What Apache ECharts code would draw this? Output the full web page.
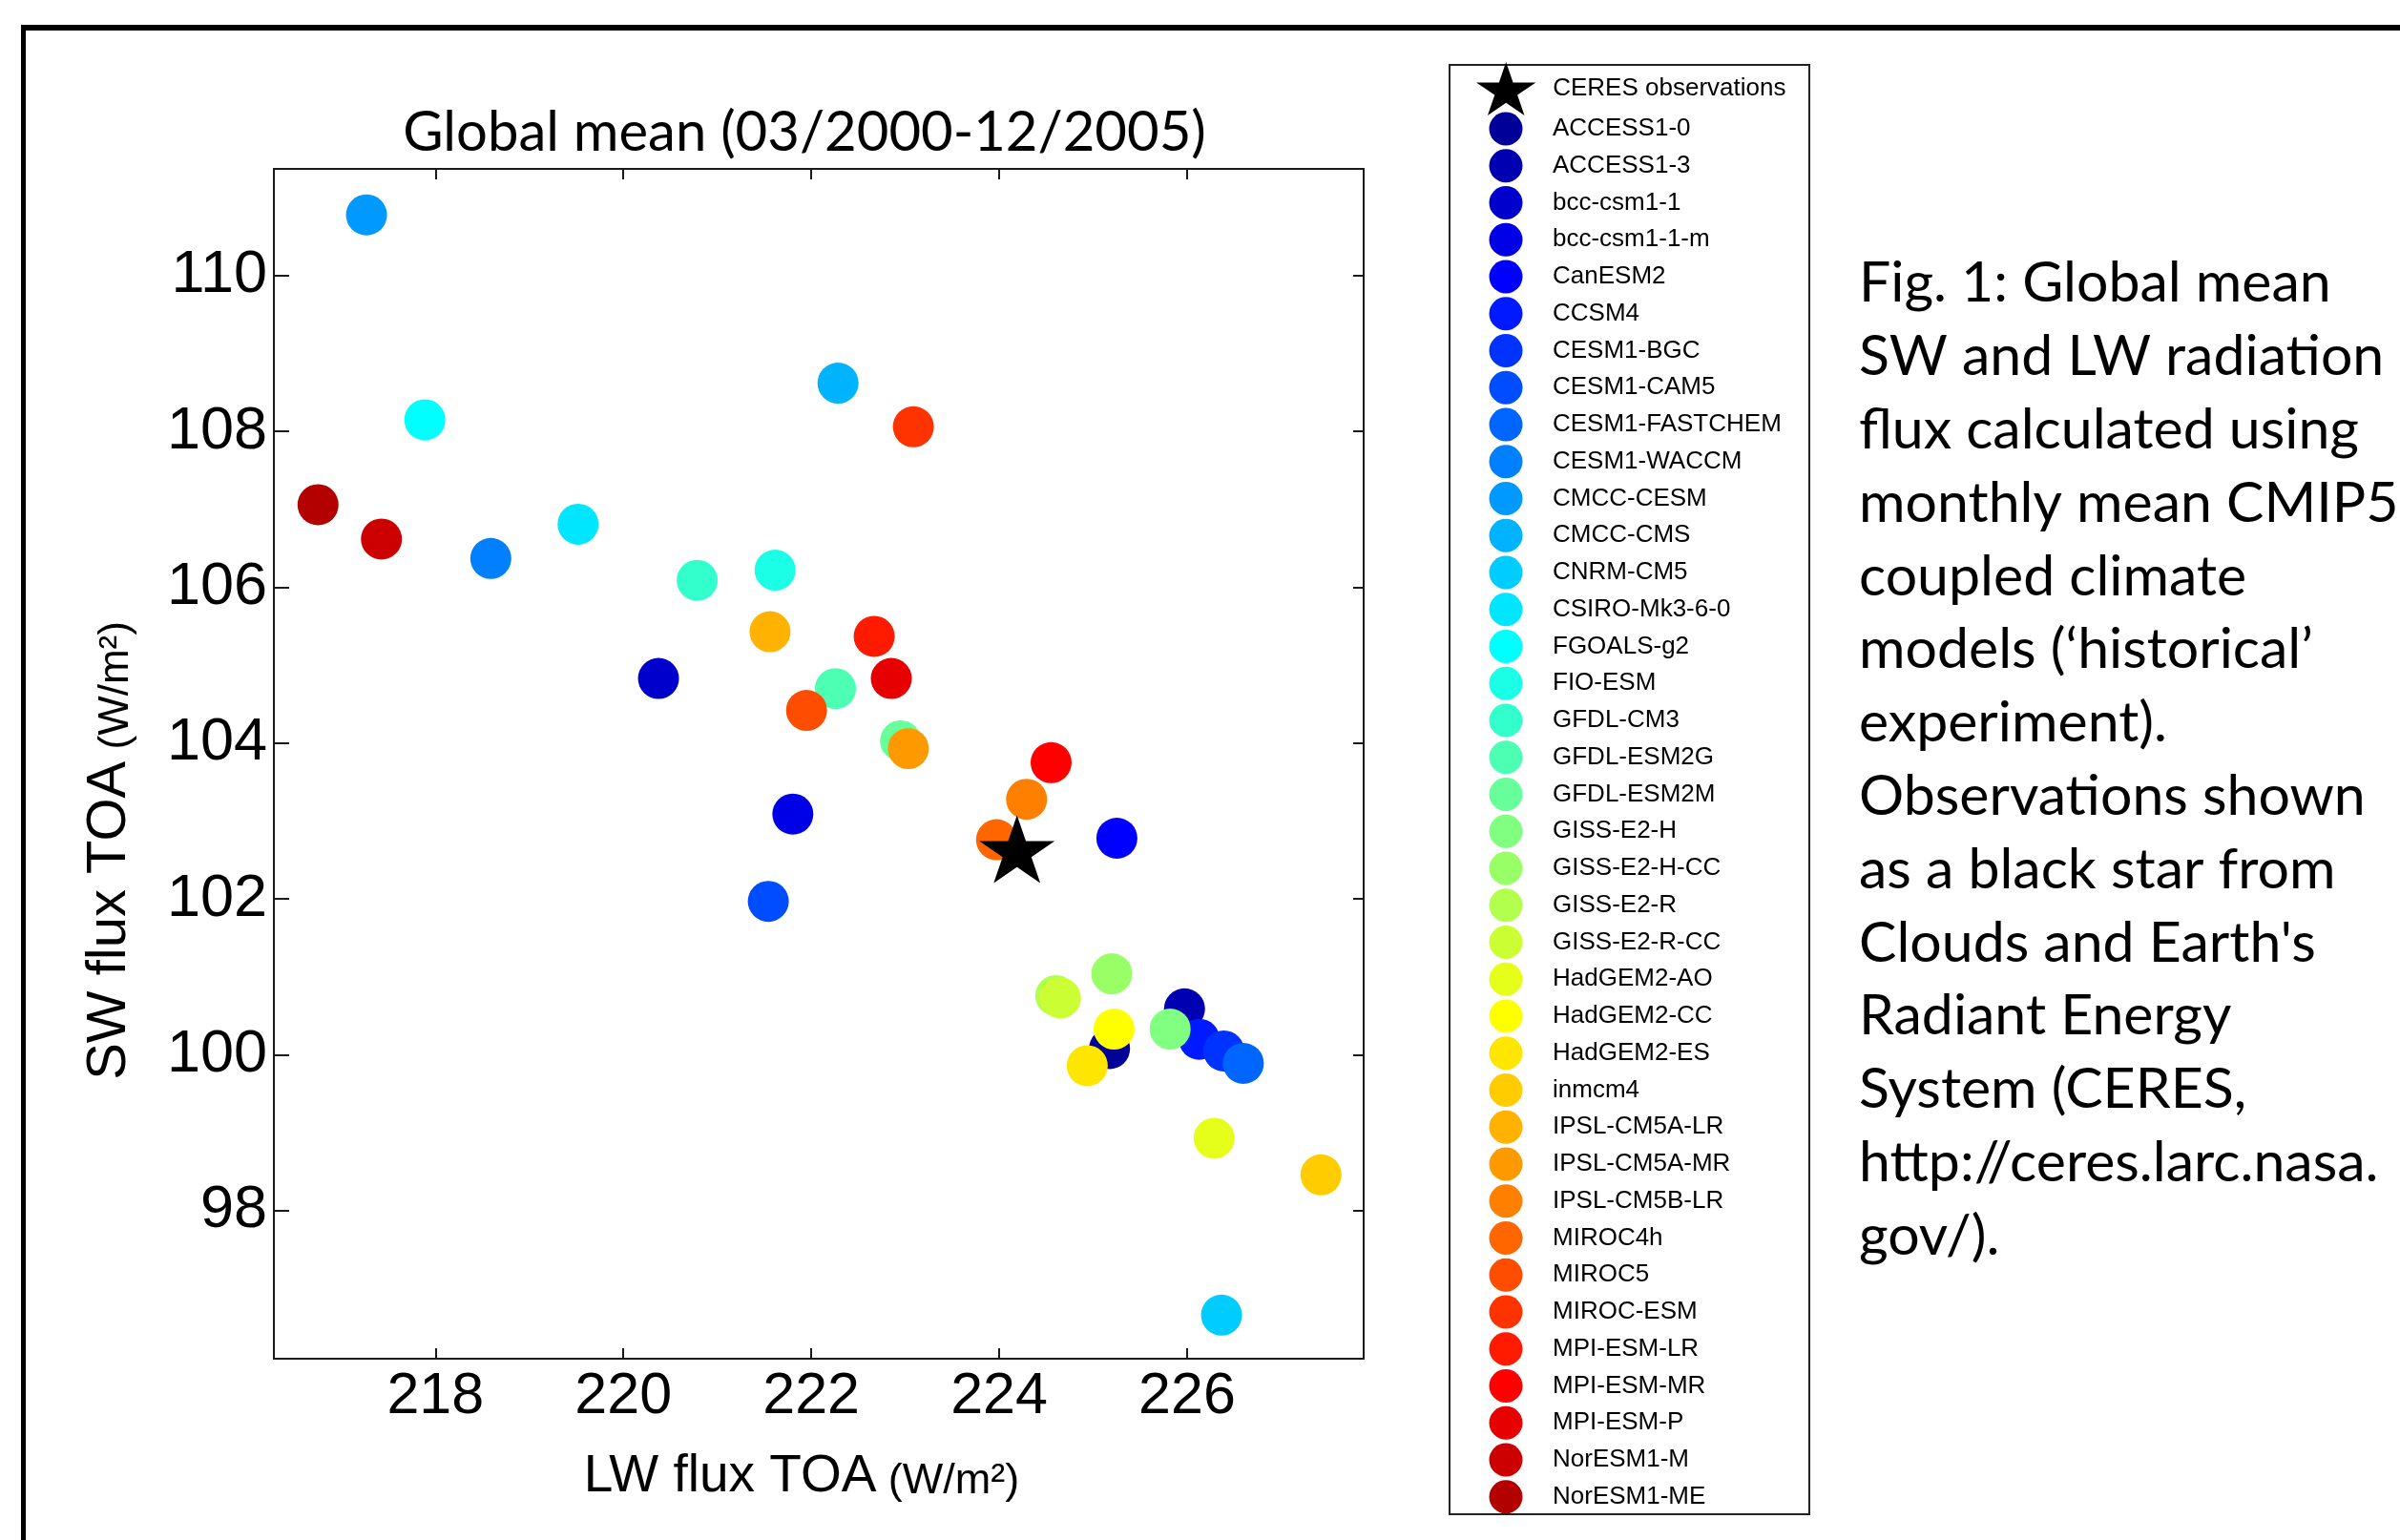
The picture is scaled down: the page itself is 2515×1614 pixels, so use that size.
<!DOCTYPE html>
<html>
<head>
<meta charset="utf-8">
<script src="https://cdn.jsdelivr.net/npm/echarts@6/dist/echarts.min.js"></script>
<style>html,body{margin:0;padding:0;background:#fff}#c{width:2515px;height:1614px}</style>
</head>
<body>
<div id="c"></div>
<script>
// ---- data ----
const models = ['ACCESS1-0','ACCESS1-3','bcc-csm1-1','bcc-csm1-1-m','CanESM2','CCSM4','CESM1-BGC','CESM1-CAM5',
  'CESM1-FASTCHEM','CESM1-WACCM','CMCC-CESM','CMCC-CMS','CNRM-CM5','CSIRO-Mk3-6-0','FGOALS-g2','FIO-ESM',
  'GFDL-CM3','GFDL-ESM2G','GFDL-ESM2M','GISS-E2-H','GISS-E2-H-CC','GISS-E2-R','GISS-E2-R-CC','HadGEM2-AO',
  'HadGEM2-CC','HadGEM2-ES','inmcm4','IPSL-CM5A-LR','IPSL-CM5A-MR','IPSL-CM5B-LR','MIROC4h','MIROC5',
  'MIROC-ESM','MPI-ESM-LR','MPI-ESM-MR','MPI-ESM-P','NorESM1-M','NorESM1-ME'];
const lwFlux = [225.175,225.973,220.374,221.804,225.253,226.130,226.391,221.543,
  226.599,218.589,217.266,222.285,226.367,219.518,217.887,221.615,
  220.786,222.258,222.951,225.820,225.199,224.603,224.652,226.288,
  225.223,224.938,227.426,221.561,223.033,224.292,223.972,221.950,
  223.087,222.670,224.553,222.852,217.425,216.750];
const swFlux = [100.08,100.59,104.83,103.09,102.78,100.20,100.05,101.97,
  99.89,106.37,110.78,108.62,96.66,106.81,108.15,106.22,
  106.09,104.70,104.03,100.33,101.04,100.76,100.73,98.93,
  100.33,99.86,98.46,105.43,103.93,103.28,102.76,104.42,
  108.06,105.37,103.75,104.83,106.62,107.06];
const ceresName = 'CERES observations';
const ceresLW = [224.19];
const ceresSW = [102.64];
const xTicks = [218,220,222,224,226];
const yTicks = [98,100,102,104,106,108,110];
const captionLines = ['Fig. 1: Global mean','SW and LW radiation','flux calculated using','monthly mean CMIP5',
  'coupled climate','models (\u2018historical\u2019','experiment).','Observations shown','as a black star from',
  'Clouds and Earth\'s','Radiant Energy','System (CERES,','http://ceres.larc.nasa.','gov/).'];

// ---- styles ----
const palette = ['#000099','#0000b3','#0000cc','#0000e6','#0000ff','#001aff','#0033ff','#004dff',
  '#0066ff','#0080ff','#0099ff','#00b3ff','#00ccff','#00e6ff','#00ffff','#1affe6',
  '#33ffcc','#4dffb3','#66ff99','#80ff80','#99ff66','#b3ff4d','#ccff33','#e6ff1a',
  '#ffff00','#ffe600','#ffcc00','#ffb300','#ff9900','#ff8000','#ff6600','#ff4d00',
  '#ff3300','#ff1a00','#ff0000','#e60000','#cc0000','#b30000'];
const starPath = 'path://M0,-100L23.8,-30.9L100.8,-30.9L38.5,11.8L62.3,80.9L0,38.2L-62.3,80.9L-38.5,11.8L-100.8,-30.9L-23.8,-30.9Z';
const axisColor = '#1a1a1a';
const tickFont = 'Liberation Sans';

const chart = echarts.init(document.getElementById('c'), null, {renderer: 'canvas'});

const series = models.map((m, i) => ({
  type: 'scatter', name: m,
  data: [[lwFlux[i], swFlux[i]]],
  symbol: 'circle', symbolSize: 43,
  itemStyle: {color: palette[i], opacity: 1},
  emphasis: {disabled: true},
  z: 2
}));
series.push({
  type: 'scatter', name: ceresName,
  data: ceresLW.map((v, i) => [v, ceresSW[i]]),
  symbol: starPath, symbolSize: [79, 71],
  itemStyle: {color: '#000', opacity: 1},
  emphasis: {disabled: true},
  z: 5
});

function xAxisBase(pos) {
  return {
    type: 'value', position: pos, min: 216.28, max: 227.88,
    axisLine: {show: true, onZero: false, lineStyle: {color: axisColor, width: 2}},
    axisTick: {show: true, inside: true, length: 11, customValues: xTicks, lineStyle: {color: axisColor, width: 2}},
    splitLine: {show: false}
  };
}
function yAxisBase(pos, len) {
  return {
    type: 'value', position: pos, min: 96.1, max: 111.37,
    axisLine: {show: true, onZero: false, lineStyle: {color: axisColor, width: 2}},
    axisTick: {show: true, inside: true, length: len, customValues: yTicks, lineStyle: {color: axisColor, width: 2}},
    splitLine: {show: false}
  };
}

const xBottom = Object.assign(xAxisBase('bottom'), {
  axisLabel: {show: true, customValues: xTicks, fontSize: 61, fontFamily: tickFont, color: '#000', margin: 10},
  name: '{main|LW flux TOA}{unit| (W/m\u00b2)}',
  nameLocation: 'middle', nameGap: 96,
  nameTextStyle: {
    padding: [0, 36, 0, 0],
    rich: {
      main: {fontSize: 55, fontFamily: tickFont, color: '#000', verticalAlign: 'bottom'},
      unit: {fontSize: 45, fontFamily: tickFont, color: '#000', verticalAlign: 'bottom'}
    }
  }
});
const xTop = Object.assign(xAxisBase('top'), {axisLabel: {show: false}});
const yLeft = Object.assign(yAxisBase('left', 16), {
  axisLabel: {show: true, customValues: yTicks, fontSize: 63, fontFamily: tickFont, color: '#000', margin: 7},
  name: '{main|SW flux TOA}{unit| (W/m\u00b2)}',
  nameLocation: 'middle', nameGap: 143, nameRotate: 90,
  nameTextStyle: {
    padding: [0, 182, 0, 0],
    rich: {
      main: {fontSize: 58, fontFamily: tickFont, color: '#000', verticalAlign: 'bottom'},
      unit: {fontSize: 44, fontFamily: tickFont, color: '#000', verticalAlign: 'bottom'}
    }
  }
});
const yRight = Object.assign(yAxisBase('right', 11), {axisLabel: {show: false}});

const legendText = {fontSize: 26, fontFamily: tickFont, color: '#000'};

const option = {
  backgroundColor: '#fff',
  animation: false,
  title: {
    text: 'Global mean (03/2000-12/2005)',
    left: 843, top: 110, padding: 0, textAlign: 'center',
    textStyle: {fontSize: 58, fontFamily: 'Lato', fontWeight: 'normal', color: '#000'}
  },
  grid: {left: 287, right: 1086, top: 177, bottom: 190, containLabel: false, outerBoundsMode: 'none'},
  xAxis: [xBottom, xTop],
  yAxis: [yLeft, yRight],
  legend: [
    {
      data: [{name: ceresName, icon: starPath}],
      orient: 'vertical', left: 1547, top: 65, padding: 0,
      itemWidth: 88, itemHeight: 56, symbolKeepAspect: true,
      selectedMode: false, textStyle: legendText
    },
    {
      data: models,
      orient: 'vertical', left: 1560.5, top: 117.5, padding: 0,
      itemWidth: 88, itemHeight: 35, itemGap: 3.75, symbolKeepAspect: true,
      selectedMode: false, textStyle: legendText
    }
  ],
  graphic: [
    {type: 'rect', shape: {x: 22, y: 26, width: 2493, height: 6}, style: {fill: '#000'}, z: 0, silent: true},
    {type: 'rect', shape: {x: 22, y: 26, width: 5, height: 1588}, style: {fill: '#000'}, z: 0, silent: true},
    {type: 'rect', shape: {x: 1519, y: 68, width: 377, height: 1519}, style: {fill: 'none', stroke: '#222', lineWidth: 2}, z: 0, silent: true},
    {type: 'text', x: 1948, y: 259, z: 1, silent: true,
      style: {text: captionLines.join('\n'), fontSize: 59, fontFamily: 'Lato', fill: '#000', lineHeight: 76.8, verticalAlign: 'top', align: 'left'}}
  ],
  series: series
};
chart.setOption(option);
</script>
</body>
</html>
